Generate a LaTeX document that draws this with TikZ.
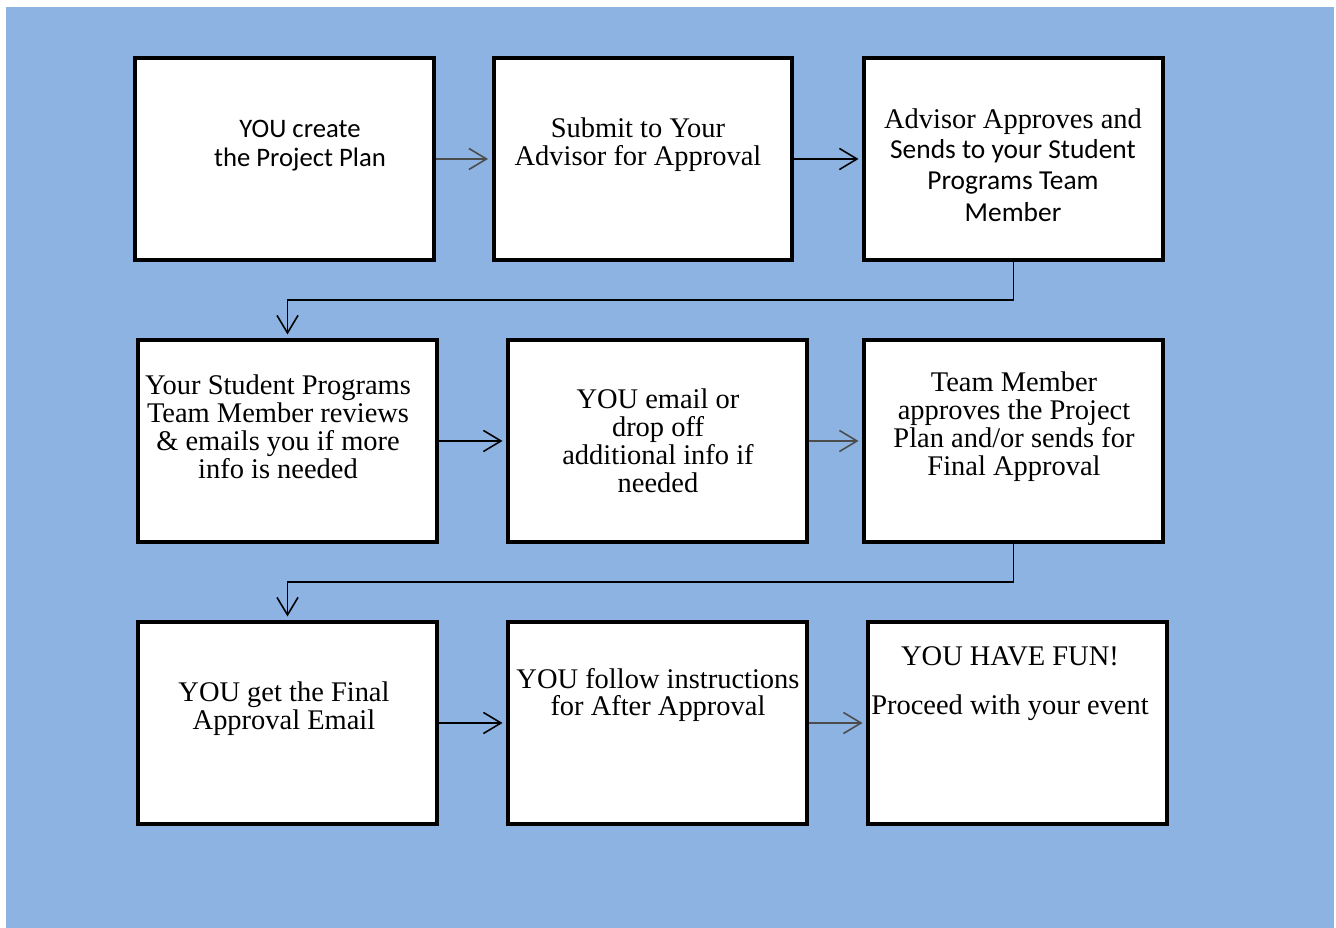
\documentclass[tikz,border=0pt]{standalone}
\usepackage{fontspec}
\setmainfont{Liberation Serif}
\newfontfamily\sansfont{Carlito}
\usepackage{tikz}
\usetikzlibrary{arrows.meta}
\usetikzlibrary{positioning}
\definecolor{bgblue}{HTML}{8DB3E2}
\tikzstyle{stepbox} = [rectangle, minimum width=5.98cm, minimum height=4.04cm, draw=black, line width=2.3pt, fill=white]
\tikzstyle{boxtext} = [align=center, inner sep=0pt, font=\fontsize{16.2}{15.9}\selectfont]
\tikzstyle{sanstext} = [align=center, inner sep=0pt, font=\sansfont\fontsize{15.2}{16.5}\selectfont]
\tikzstyle{arrow} = [line width=0.9pt, -{Straight Barb[length=10pt,width=12pt]}, shorten >=2pt]
\tikzstyle{greyarrow} = [arrow, draw=black!70]

\begin{document}
\begin{tikzpicture}[x=0.02cm, y=-0.02cm]
                        \useasboundingbox (0,0) rectangle (1336,928);
                        \fill[bgblue] (6,7) rectangle (1334,928);
                        % first row
                        \node (1) [stepbox] at (284.5,159) {};
                        \node (2) [stepbox] at (643,159) {};
                        \node (3) [stepbox] at (1013.5,159) {};
                        % second row
                        \node (4) [stepbox] at (287.5,441) {};
                        \node (5) [stepbox] at (657.5,441) {};
                        \node (6) [stepbox] at (1013.5,441) {};
                        % third row
                        \node (7) [stepbox] at (287.5,723) {};
                        \node (8) [stepbox] at (657.5,723) {};
                        \node (9) [stepbox] at (1017.5,723) {};
                        % texts
                        \node (1t) [sanstext] at (300,146) {YOU create\\the Project Plan};
                        \node (2t) [boxtext] at (638,145) {Submit to Your\\Advisor for Approval};
                        \node (3t) [boxtext] at (1013,165) {Advisor Approves and\\[1pt]{\sansfont\fontsize{15.6}{16.5}\selectfont Sends to your Student}\\[2pt]{\sansfont\fontsize{15.6}{16.5}\selectfont Programs Team}\\[2pt]{\sansfont\fontsize{15.6}{16.5}\selectfont Member}};
                        \node (4t) [boxtext] at (278,427) {Your Student Programs\\Team Member reviews\\\&~emails you if more\\info is needed};
                        \node (5t) [boxtext] at (658,441) {YOU email or\\drop off\\additional info if\\needed};
                        \node (6t) [boxtext] at (1014,427) {Team Member\\approves the Project\\Plan and/or sends for\\Final Approval};
                        \node (7t) [boxtext] at (284,709) {YOU get the Final\\Approval Email};
                        \node (8t) [boxtext] at (658,695) {YOU follow instructions\\for After Approval};
                        \node (9t) [boxtext] at (1010,684) {YOU HAVE FUN!\\[12pt]Proceed with your event};
                        % connectors
                        \draw [greyarrow] (1) -- (2);
                        \draw [arrow] (2) -- (3);
                        \draw [arrow] (3.south) -- ++(0,38) -| (4.north);
                        \draw [arrow] (4) -- (5);
                        \draw [greyarrow] (5) -- (6);
                        \draw [arrow] (6.south) -- ++(0,38) -| (7.north);
                        \draw [arrow] (7) -- (8);
                        \draw [greyarrow] (8) -- (9);
                    \end{tikzpicture}
\end{document}
